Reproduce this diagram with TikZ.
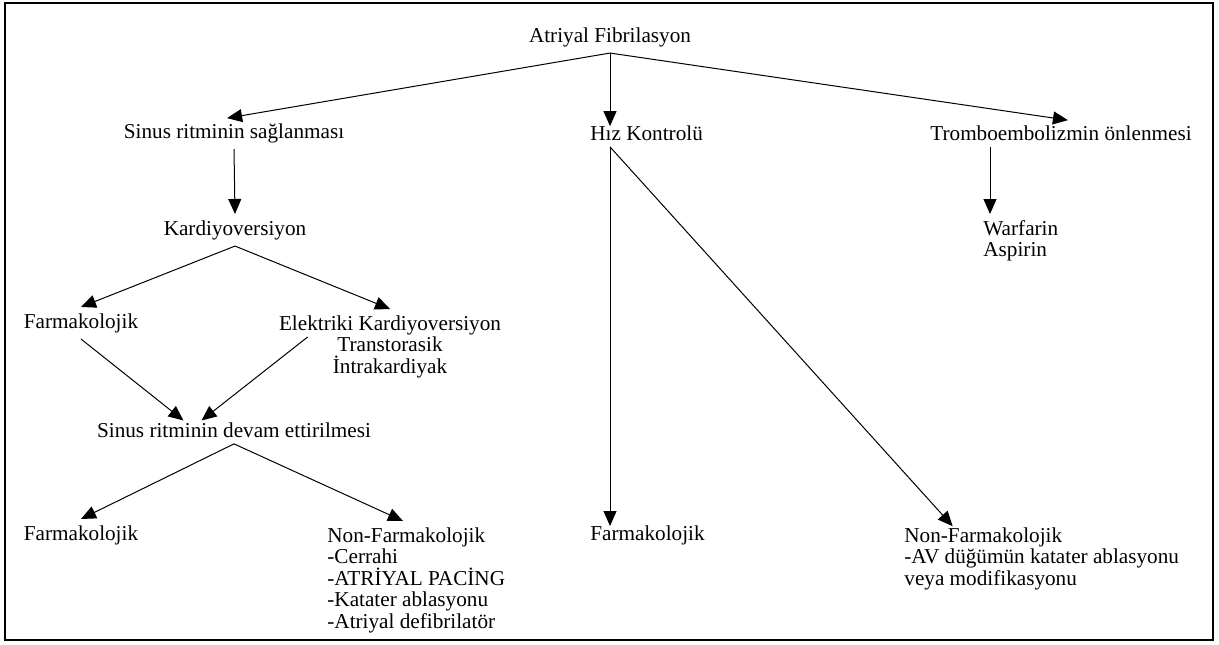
\documentclass[tikz,border=0pt]{standalone}
\usepackage{fontspec}
\setmainfont{Liberation Serif}
\usetikzlibrary{arrows.meta,calc}

\tikzset{
    lbl/.style={font=\fontsize{10.6}{10.8}\selectfont, inner xsep=0pt, inner ysep=3pt},
    arr/.style={line width=0.5pt, -{Triangle[length=7.5pt,width=6.5pt]}},
    arrlong/.style={arr, shorten >=-3.5pt}
}

\begin{document}
\begin{tikzpicture}[x=0.5pt, y=-0.5pt]
    \useasboundingbox (0,0) rectangle (1219,644);
    \draw[line width=1pt] (5,3) rectangle (1213,640);

    \node[lbl] (af) at (610,37) {Atriyal Fibrilasyon};
    \node[lbl] (sr) at (234,133) {Sinus ritminin sağlanması};
    \node[lbl, anchor=west] (hk) at (590,133) {Hız Kontrolü};
    \node[lbl] (tr) at (1061,133) {Tromboembolizmin önlenmesi};
    \node[lbl, anchor=north west, align=left] (wa) at (983,214) {Warfarin\\Aspirin};
    \node[lbl] (kv) at (235,230) {Kardiyoversiyon};
    \node[lbl] (fa1) at (81,323) {Farmakolojik};
    \node[lbl, anchor=north, align=center] (ek) at (390,309) {Elektriki Kardiyoversiyon\\Transtorasik\\İntrakardiyak};
    \node[lbl] (sd) at (234,430) {Sinus ritminin devam ettirilmesi};
    \node[lbl] (fa2) at (81,535) {Farmakolojik};
    \node[lbl, anchor=north west, align=left] (nfl) at (327,521) {Non-Farmakolojik\\-Cerrahi\\-ATRİYAL PACİNG\\-Katater ablasyonu\\-Atriyal defibrilatör};
    \node[lbl, anchor=west] (hf) at (590,535) {Farmakolojik};
    \node[lbl, anchor=north west, align=left] (nfr) at (904,521) {Non-Farmakolojik\\-AV düğümün katater ablasyonu\\veya modifikasyonu};

    \coordinate (wx) at ($(wa.north west)+(7,0)$);

    \draw[arrlong] (af.south) -- (sr.north);
    \draw[arrlong] (af.south) -- (af.south |- hk.north);
    \draw[arrlong] (af.south) -- (tr.north);
    \draw[arr] (sr.south) -- (kv.north);
    \draw[arr] (wx |- tr.south) -- (wx);
    \draw[arr] (kv.south) -- (fa1.north);
    \draw[arr] (kv.south) -- (ek.north);
    \draw[arrlong] (fa1.south) -- ($(sd.north)+(-56,0)$);
    \draw[arrlong] ($(ek.north west)+(29,28)$) -- ($(sd.north)+(-27,0)$);
    \draw[arr] (sd.south) -- (fa2.north);
    \draw[arr] (sd.south) -- ($(nfl.north west)+(76,0)$);
    \draw[arrlong] (af.south |- hk.south) -- (af.south |- hf.north);
    \draw[arrlong] (af.south |- hk.south) -- ($(nfr.north west)+(44,0)$);
\end{tikzpicture}
\end{document}
